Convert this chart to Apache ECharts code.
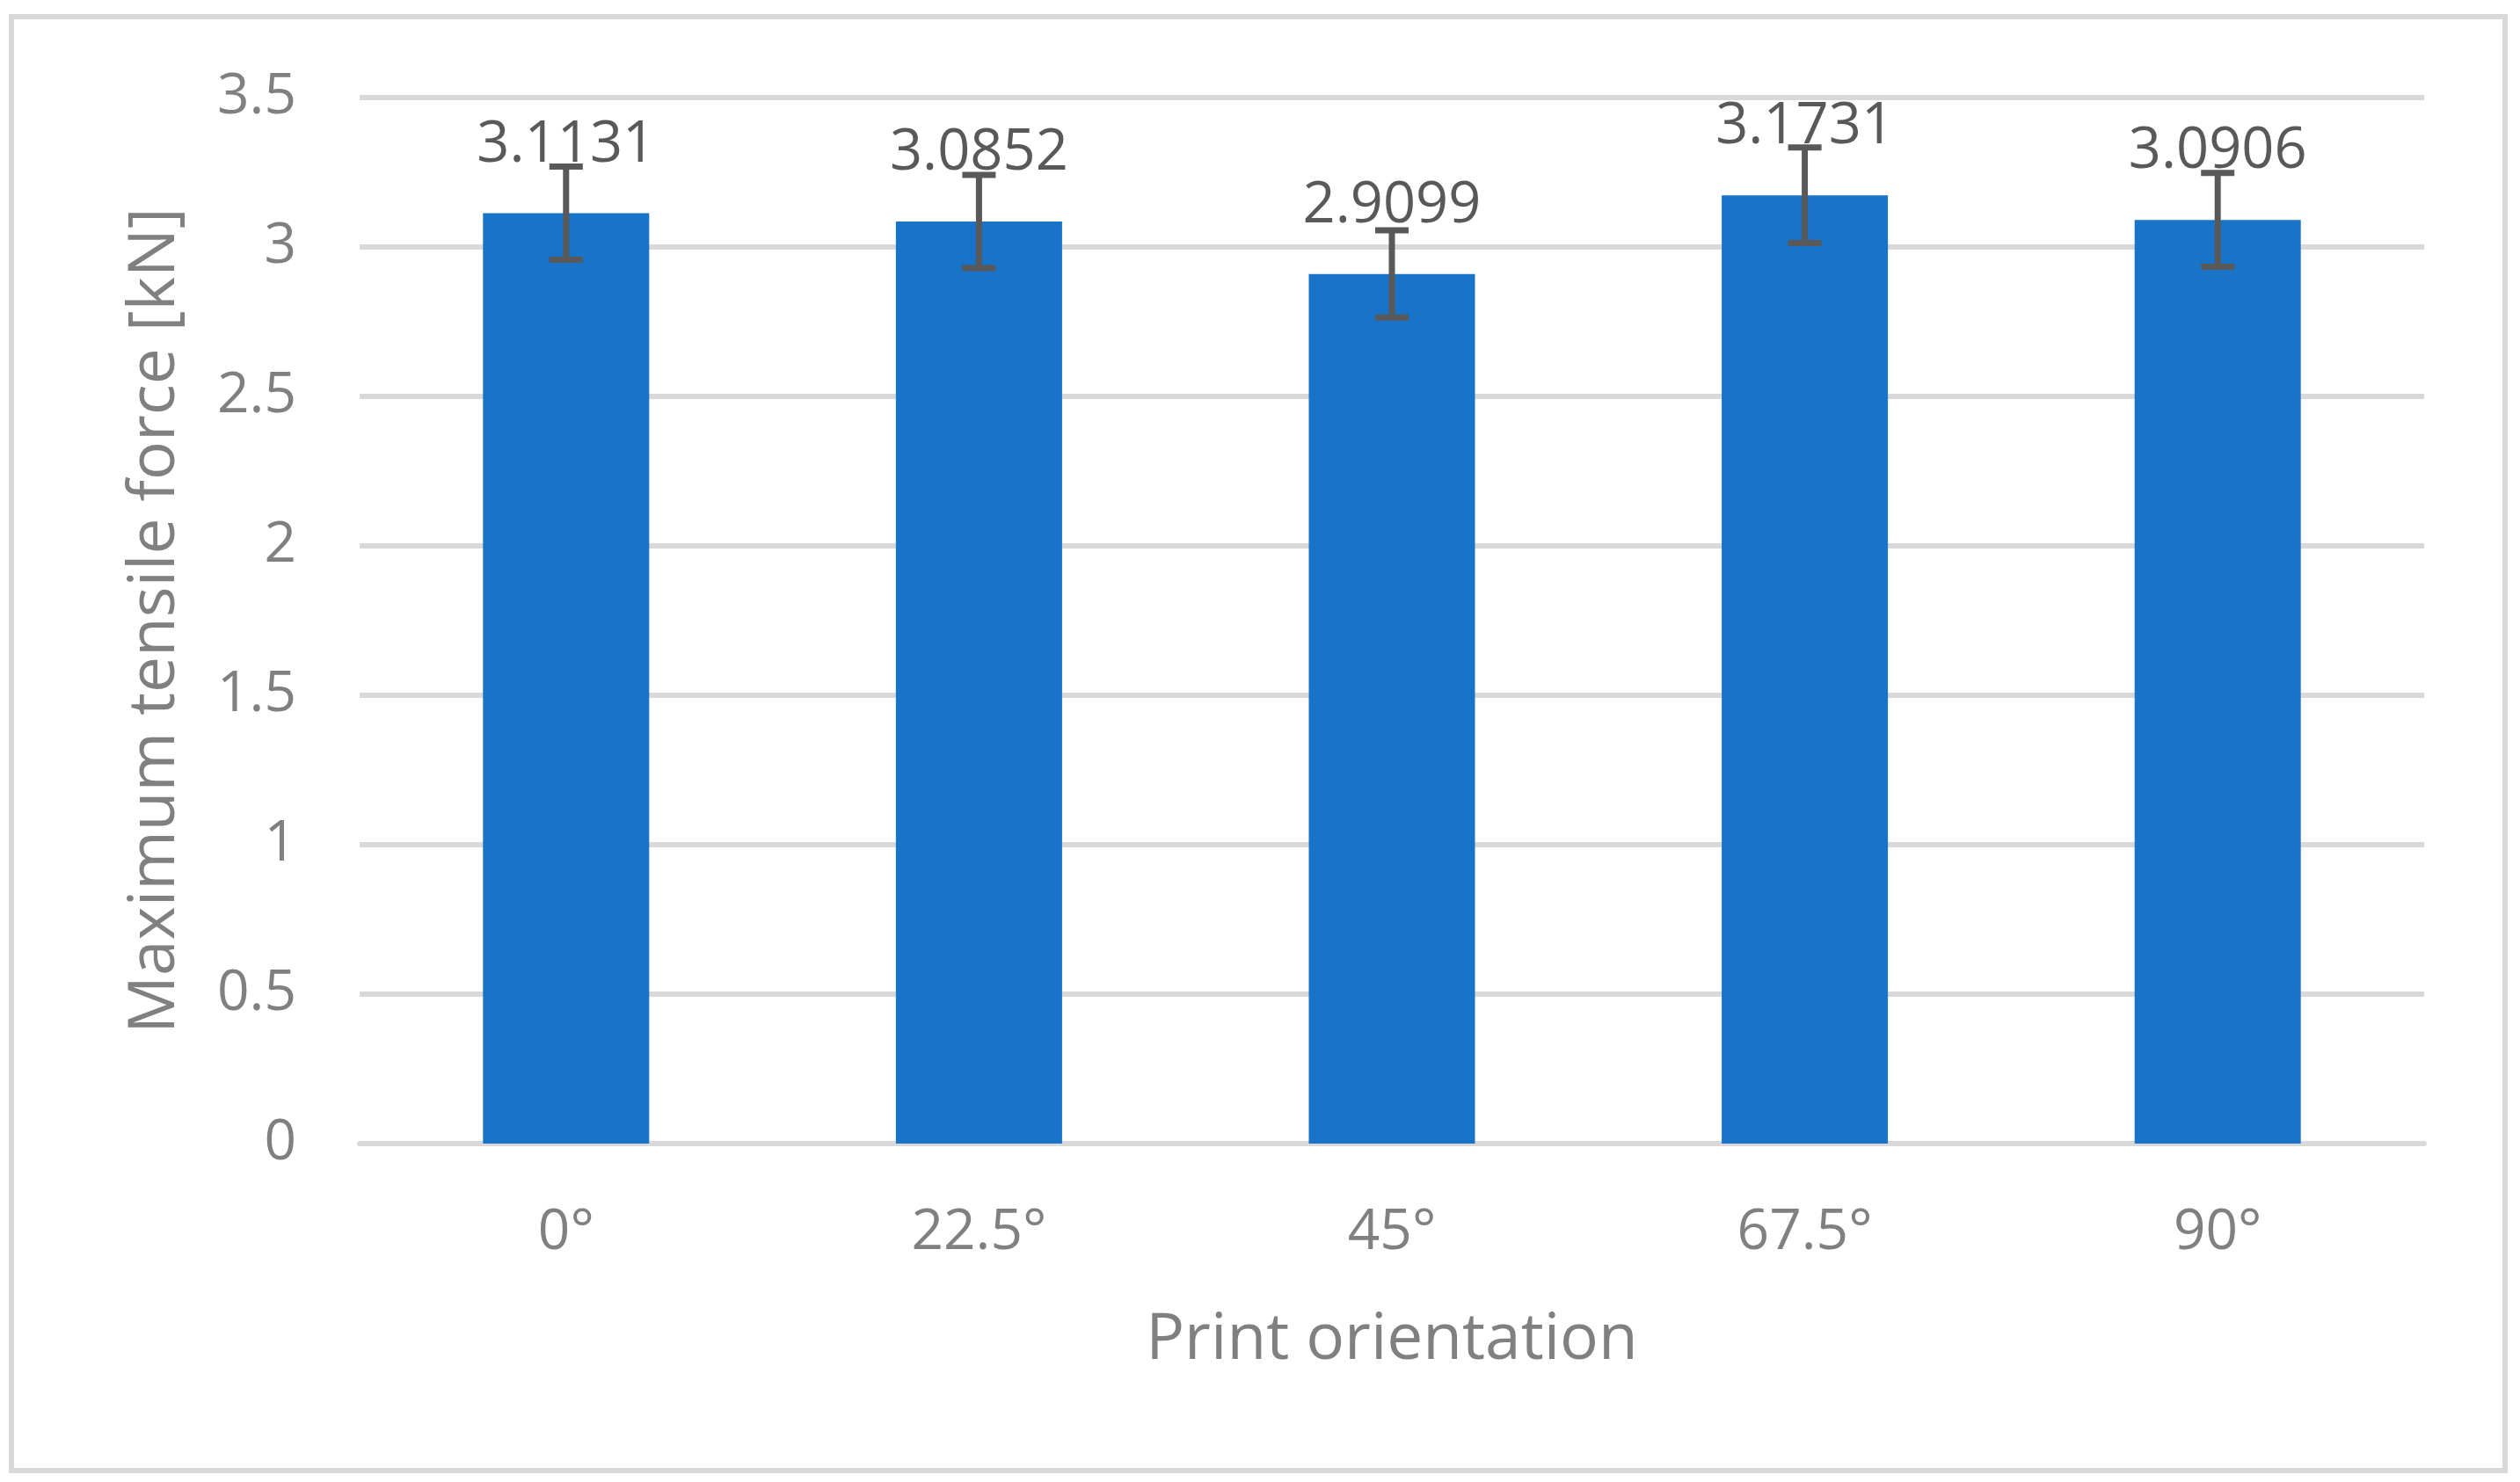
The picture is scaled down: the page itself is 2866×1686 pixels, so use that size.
<!DOCTYPE html>
<html>
<head>
<meta charset="utf-8">
<script src="https://cdn.jsdelivr.net/npm/echarts@6/dist/echarts.min.js"></script>
<style>
html,body{margin:0;padding:0;background:#fff;}
#chart{width:2866px;height:1686px;}
</style>
</head>
<body>
<div id="chart"></div>
<script>
const categories = ['0°', '22.5°', '45°', '67.5°', '90°'];
const values = [3.1131, 3.0852, 2.9099, 3.1731, 3.0906];
const errors = [0.156, 0.156, 0.146, 0.160, 0.157];
const yTicks = {min: 0, max: 3.5, interval: 0.5};

const FONT = '"Open Sans", "Noto Sans", sans-serif';
const chart = echarts.init(document.getElementById('chart'), null, {renderer: 'canvas'});

const option = {
  backgroundColor: '#ffffff',
  animation: false,
  graphic: [{
    type: 'rect',
    shape: {x: 13, y: 19, width: 2836, height: 1654},
    style: {fill: 'none', stroke: '#d9d9d9', lineWidth: 6},
    silent: true, z: -10
  }],
  grid: {left: 409, right: 109, top: 111, bottom: 385, containLabel: false},
  xAxis: {
    type: 'category',
    data: categories,
    name: 'Print orientation',
    nameLocation: 'middle',
    nameGap: 188,
    nameTextStyle: {fontFamily: FONT, fontSize: 73, color: '#808080'},
    axisLine: {show: true, lineStyle: {color: '#d9d9d9', width: 6}},
    axisTick: {show: false},
    axisLabel: {fontFamily: FONT, fontSize: 64, color: '#808080', margin: 70}
  },
  yAxis: {
    type: 'value',
    min: yTicks.min, max: yTicks.max, interval: yTicks.interval,
    name: 'Maximum tensile force [kN]',
    nameLocation: 'middle',
    nameGap: 195,
    nameTextStyle: {fontFamily: FONT, fontSize: 73, color: '#808080'},
    axisLine: {show: false},
    axisTick: {show: false},
    axisLabel: {fontFamily: FONT, fontSize: 64, color: '#808080', margin: 72},
    splitLine: {lineStyle: {color: '#d9d9d9', width: 6}}
  },
  series: [{
    type: 'bar',
    data: values,
    barWidth: 189,
    itemStyle: {color: '#1873c9'},
    label: {
      show: true, position: 'top', distance: 45,
      fontFamily: FONT, fontSize: 65, color: '#595959',
      formatter: p => p.value.toFixed(4)
    },
    z: 2
  }, {
    type: 'custom',
    data: values.map((v, i) => [i, v, errors[i]]),
    z: 5,
    renderItem: function (params, api) {
      const i = api.value(0), v = api.value(1), e = api.value(2);
      const top = api.coord([i, v + e]);
      const bot = api.coord([i, v - e]);
      const hw = 19;
      const st = {stroke: '#595959', lineWidth: 7};
      return {
        type: 'group',
        children: [
          {type: 'line', shape: {x1: top[0], y1: top[1], x2: bot[0], y2: bot[1]}, style: st},
          {type: 'line', shape: {x1: top[0] - hw, y1: top[1], x2: top[0] + hw, y2: top[1]}, style: st},
          {type: 'line', shape: {x1: bot[0] - hw, y1: bot[1], x2: bot[0] + hw, y2: bot[1]}, style: st}
        ]
      };
    }
  }]
};
chart.setOption(option);
</script>
</body>
</html>
